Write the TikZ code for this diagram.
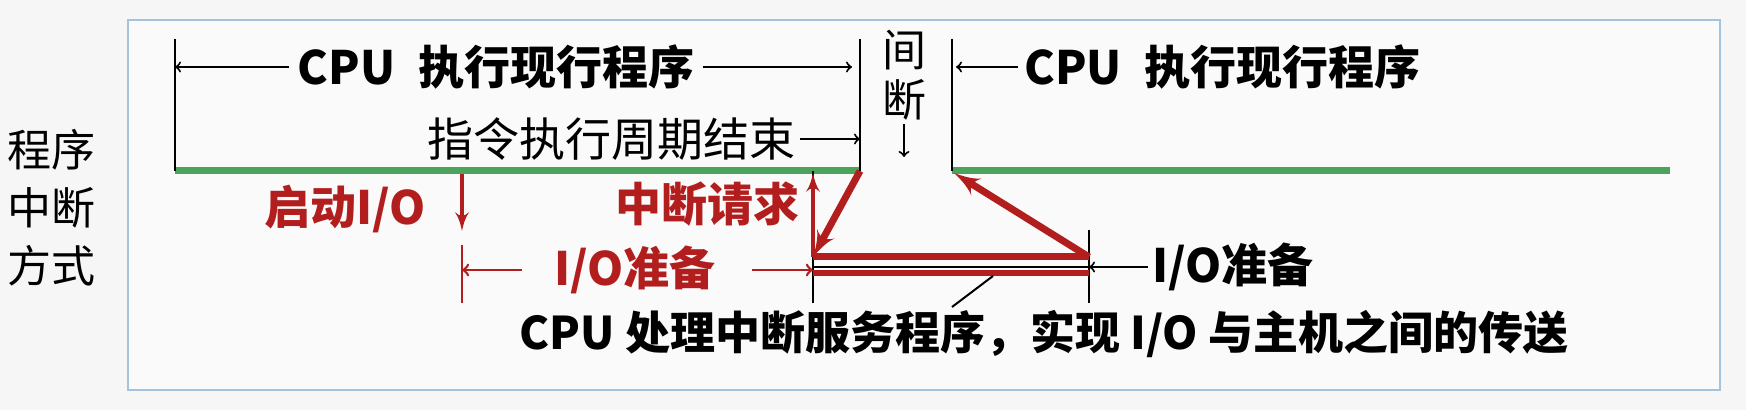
\documentclass[tikz,border=0pt]{standalone}
\usepackage{fontspec}
\setmainfont{Noto Sans CJK SC}
\usetikzlibrary{arrows, calc, positioning}
\definecolor{runGreen}{RGB}{76,163,90}
\definecolor{ioRed}{RGB}{178,30,30}
\definecolor{frameBlue}{RGB}{165,195,220}
\definecolor{pageGray}{RGB}{246,246,246}
\definecolor{paneWhite}{RGB}{250,250,250}
\tikzstyle{txt} = [inner sep=0pt, font=\fontsize{23}{27}\selectfont]
\tikzstyle{boldtxt} = [txt, font=\fontsize{23}{27}\selectfont\bfseries]
\tikzstyle{redtxt} = [boldtxt, text=ioRed]
\tikzstyle{tick} = [draw, line width=1pt]
\tikzstyle{dim} = [draw, line width=1pt, -to]
\tikzstyle{reddim} = [draw=ioRed, line width=1.3pt, -to]
\tikzstyle{redup} = [draw=ioRed, line width=2.2pt, -latex']
\tikzstyle{run} = [draw=runGreen, line width=3.5pt]
\tikzstyle{flow} = [draw=ioRed, line width=3.5pt]
\tikzstyle{flowarrow} = [flow, -latex']
\begin{document}
\begin{tikzpicture}[x=0.5pt, y=-0.5pt]
\fill[pageGray] (0,0) rectangle (1746,410);
\filldraw[fill=paneWhite, draw=frameBlue, line width=1pt] (128,20) rectangle (1720,390);
\node [txt, align=center, font=\fontsize{22}{29}\selectfont] (mode) at (52,208) {程序\\中断\\方式};
% CPU time line
\coordinate (start) at (175,171);
\coordinate (startTop) at (175,39);
\coordinate (stop) at (860,171);
\coordinate (stopTop) at (860,39);
\coordinate (resume) at (952,171);
\coordinate (resumeTop) at (952,39);
\coordinate (runEnd) at (1670,171);
\path [run] (start) -- (stop);
\path [run] (resume) -- (runEnd);
\path [tick] (startTop) -- (start);
\path [tick] (stopTop) -- (stop);
\path [tick] (resumeTop) -- (resume);
\node [boldtxt] (cpuRun) at (496,67) {CPU\hspace{0.5em}执行现行程序};
\path [dim, shorten <=4pt] (cpuRun.west) -- (cpuRun.west -| start);
\path [dim, shorten <=4pt, shorten >=4pt] (cpuRun.east) -- (cpuRun.east -| stop);
\node [txt, anchor=east] (cycleEnd) at (796,139) {指令执行周期结束};
\path [dim, shorten <=2pt] (cycleEnd.east) -- (cycleEnd.east -| stop);
\node [txt, align=center, font=\fontsize{22}{25}\selectfont] (gap) at (904,75) {间\\断};
\coordinate (gapTip) at (904,157);
\path [dim, shorten <=2pt] (gap) -- (gapTip);
\node [boldtxt, anchor=west] (cpuResume) at (1024,67) {CPU\hspace{0.5em}执行现行程序};
\path [dim, shorten <=3pt, shorten >=2pt] (cpuResume.west) -- (cpuResume.west -| resume);
% I/O time line
\coordinate (ioFrom) at (462,174);
\coordinate (ioBegin) at (462,245);
\coordinate (ioBeginLow) at (462,303);
\coordinate (ioReady) at (813,171);
\coordinate (ioReadyLow) at (813,303);
\coordinate (ioDone) at (1089,230);
\coordinate (ioDoneLow) at (1089,303);
\node [redtxt] (startIO) at (345,209) {启动I/O};
\path [redup] (ioFrom) -- ($(ioFrom)+(0,57)$);
\path [draw=ioRed, line width=1.3pt] (ioBegin) -- (ioBeginLow);
\path [tick] (ioReady) -- (ioReadyLow);
\path [tick] (ioDone) -- (ioDoneLow);
\node [redtxt] (ioPrep) at (635,270) {I/O准备};
\path [reddim, shorten <=16pt] (ioPrep.west) -- (ioPrep.west -| ioBegin);
\path [reddim, shorten <=18pt] (ioPrep.east) -- (ioPrep.east -| ioReady);
\node [redtxt, anchor=east] (irq) at (800,204) {中断请求};
\coordinate (svcBegin) at (813,257);
\coordinate (svcEnd) at (1089,257);
\coordinate (xferBegin) at (813,273);
\coordinate (xferEnd) at (1089,273);
\path [redup] (svcBegin) -- ($(ioReady)+(0,2)$);
\path [flowarrow] (stop) -- (svcBegin);
\path [flow] (svcBegin) -- (svcEnd);
\path [flowarrow] (svcEnd) -- ($(resume)+(2,2)$);
\path [draw=ioRed, line width=3pt] (xferBegin) -- (xferEnd);
\path [tick] ($(xferBegin)+(0,-6)$) -- ($(xferEnd)+(0,-6)$);
\node [boldtxt, anchor=west] (ioPrepDev) at (1152,267) {I/O准备};
\path [dim, shorten <=2pt] (ioPrepDev.west) -- (ioPrepDev.west -| ioDone);
\node [boldtxt, font=\fontsize{22.5}{27}\selectfont\bfseries] (note) at (1044,334) {CPU 处理中断服务程序，实现 I/O 与主机之间的传送};
\coordinate (noteFoot) at (952,307);
\coordinate (noteTip) at (993,276);
\path [tick] (noteFoot) -- (noteTip);
\end{tikzpicture}
\end{document}
